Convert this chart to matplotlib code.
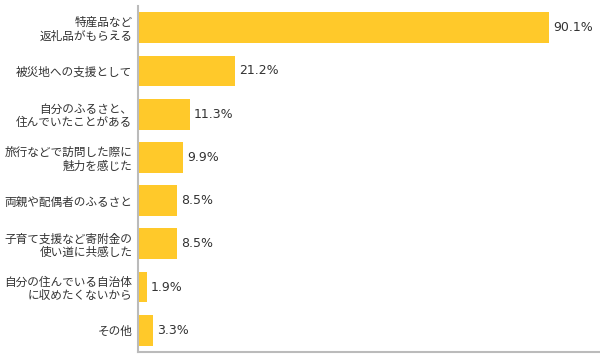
import matplotlib.pyplot as plt

plt.rcParams['font.family'] = ['Noto Sans CJK JP', 'DejaVu Sans']

# data
labels = [
    "特産品など\n返礼品がもらえる",
    "被災地への支援として",
    "自分のふるさと、\n住んでいたことがある",
    "旅行などで訪問した際に\n魅力を感じた",
    "両親や配偶者のふるさと",
    "子育て支援など寄附金の\n使い道に共感した",
    "自分の住んでいる自治体\nに収めたくないから",
    "その他",
]
values = [90.1, 21.2, 11.3, 9.9, 8.5, 8.5, 1.9, 3.3]

fig = plt.figure(figsize=(6, 3.58), dpi=100)
ax = fig.add_axes([0.23, 0.017, 0.77, 0.966])

pos = list(range(len(values)))
ax.barh(pos, values, height=0.71, color="#FFC92A")

for p, v in zip(pos, values):
    ax.text(v + 0.9, p, f"{v}%", va="center", ha="left", fontsize=9,
            color="#333333", family="DejaVu Sans")

ax.set_yticks(pos)
ax.set_yticklabels(labels, fontsize=8.4, color="#333333", linespacing=1.05)
ax.tick_params(axis="y", length=0, pad=4)
ax.set_xticks([])
ax.set_xlim(0, 101.3)
ax.set_ylim(7.5, -0.5)

for s in ["top", "right"]:
    ax.spines[s].set_visible(False)
for s in ["left", "bottom"]:
    ax.spines[s].set_color("#BBBBBB")
    ax.spines[s].set_linewidth(1.5)

fig.savefig("out.png", dpi=100)
